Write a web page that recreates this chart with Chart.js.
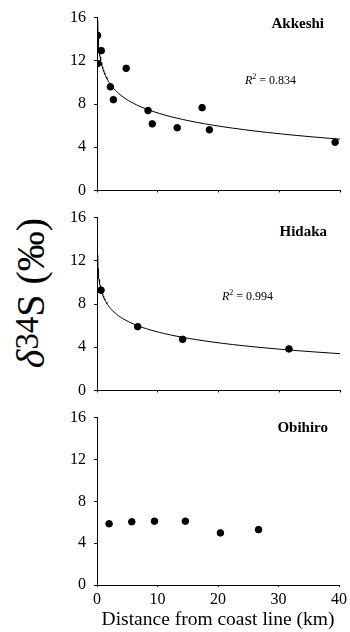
<!DOCTYPE html>
<html lang="en">
<head>
<meta charset="UTF-8">
<title>δ34S vs distance from coast line</title>
<script src="https://cdn.jsdelivr.net/npm/chart.js"></script>
<style>
    body {
        margin: 0;
        padding: 0;
        background: #fff;
        width: 350px;
        height: 632px;
        position: relative;
        overflow: hidden;
        font-family: "Liberation Serif", "Times New Roman", serif;
    }
    canvas { position: absolute; left: 0; }
    #c1 { top: 0; }
    #c2 { top: 200px; }
    #c3 { top: 400px; }
    #ylabel {
        position: absolute;
        left: 31px;
        top: 293px;
        transform: translate(-50%, -50%) rotate(-90deg);
        font-size: 40px;
        line-height: 1;
        white-space: nowrap;
        color: #000;
    }
    #ylabel sup { font-size: 0.82em; vertical-align: 0.18em; line-height: 0; }
</style>
</head>
<body>
<div id="ylabel"><i>δ</i><sup>34</sup>S (‰)</div>
<canvas id="c1" width="350" height="208"></canvas>
<canvas id="c2" width="350" height="208"></canvas>
<canvas id="c3" width="350" height="234"></canvas>

<script>
// distance from coast line (km) and δ34S (‰) for each site
var akkeshiDist = [0.1, 0.1, 0.7, 2.2, 2.7, 4.8, 8.4, 9.1, 13.2, 17.3, 18.5, 39.2];
var akkeshiS34  = [14.35, 11.75, 12.94, 9.59, 8.4, 11.3, 7.39, 6.16, 5.8, 7.66, 5.61, 4.46];

var hidakaDist = [0.66, 6.7, 14.1, 31.6];
var hidakaS34  = [9.28, 5.9, 4.73, 3.84];

var obihiroDist = [2.0, 5.75, 9.5, 14.6, 20.4, 26.7];
var obihiroS34  = [5.85, 6.04, 6.1, 6.1, 4.98, 5.29];

// logarithmic trend lines y = a - b ln(x), as shown on the figure
var akkeshiTrend = { a: 11.2, b: 1.75, r2: '0.834' };
var hidakaTrend  = { a: 8.75, b: 1.45, r2: '0.994' };

var yTicks = [0, 4, 8, 12, 16];
var xTicks = [0, 10, 20, 30, 40];

var FONT = '"Liberation Serif", "Times New Roman", serif';

function toPoints(xs, ys) {
    return xs.map(function (x, i) { return { x: x, y: ys[i] }; });
}

function trendPoints(t) {
    var pts = [];
    var x = 0.075;
    while (x < 40) {
        pts.push({ x: x, y: t.a - t.b * Math.log(x) });
        x *= 1.08;
    }
    pts.push({ x: 40, y: t.a - t.b * Math.log(40) });
    return pts;
}

// site name and R² text
var panelText = {
    id: 'panelText',
    afterDraw: function (chart, args, o) {
        var ctx = chart.ctx;
        ctx.save();
        ctx.fillStyle = '#000';
        ctx.textBaseline = 'middle';
        ctx.textAlign = 'right';
        ctx.font = 'bold 15px ' + FONT;
        ctx.fillText(o.name, o.nameX, o.nameY);
        if (o.r2) {
            ctx.textAlign = 'left';
            var x = o.r2X;
            ctx.font = 'italic 12px ' + FONT;
            ctx.fillText('R', x, o.r2Y);
            x += ctx.measureText('R').width;
            ctx.font = '8px ' + FONT;
            ctx.fillText('2', x, o.r2Y - 4);
            x += ctx.measureText('2').width;
            ctx.font = '12px ' + FONT;
            ctx.fillText(' = ' + o.r2, x, o.r2Y);
        }
        ctx.restore();
    }
};

function makePanel(id, points, trend, text, padTop, xHeight, showX) {
    var datasets = [{
        data: points,
        backgroundColor: '#000',
        borderColor: '#000',
        pointRadius: 3.3,
        pointHoverRadius: 3.3
    }];
    if (trend) {
        datasets.push({
            data: trendPoints(trend),
            showLine: true,
            borderColor: '#000',
            borderWidth: 1,
            pointRadius: 0,
            tension: 0
        });
    }
    return new Chart(document.getElementById(id), {
        type: 'scatter',
        data: { datasets: datasets },
        plugins: [panelText],
        options: {
            responsive: false,
            animation: false,
            layout: { padding: { top: padTop, right: 10, left: 0, bottom: 0 } },
            plugins: {
                legend: { display: false },
                tooltip: { enabled: false },
                panelText: text
            },
            scales: {
                x: {
                    type: 'linear',
                    min: 0,
                    max: 40,
                    afterBuildTicks: function (s) { s.ticks = xTicks.map(function (v) { return { value: v }; }); },
                    grid: { drawOnChartArea: false, color: '#000', tickLength: 2 },
                    border: { color: '#000', width: 1 },
                    ticks: { display: showX, color: '#000', padding: 3, font: { family: FONT, size: 16 } },
                    title: {
                        display: showX,
                        text: 'Distance from coast line (km)',
                        color: '#000',
                        padding: { top: 0, bottom: 2 },
                        font: { family: FONT, size: 19.5 }
                    },
                    afterFit: function (s) { s.height = xHeight; }
                },
                y: {
                    min: 0,
                    max: 16,
                    afterBuildTicks: function (s) { s.ticks = yTicks.map(function (v) { return { value: v }; }); },
                    grid: { drawOnChartArea: false, color: '#000', tickLength: 3 },
                    border: { color: '#000', width: 1 },
                    ticks: { color: '#000', padding: 8, font: { family: FONT, size: 16 } },
                    afterFit: function (s) { s.width = 97; }
                }
            }
        }
    });
}

makePanel('c1', toPoints(akkeshiDist, akkeshiS34), akkeshiTrend,
    { name: 'Akkeshi', nameX: 324, nameY: 24, r2: akkeshiTrend.r2, r2X: 245, r2Y: 81 },
    15, 10, false);

makePanel('c2', toPoints(hidakaDist, hidakaS34), hidakaTrend,
    { name: 'Hidaka', nameX: 327, nameY: 32, r2: hidakaTrend.r2, r2X: 222, r2Y: 97 },
    15, 11, false);

makePanel('c3', toPoints(obihiroDist, obihiroS34), null,
    { name: 'Obihiro', nameX: 328, nameY: 28 },
    13, 49, true);
</script>
</body>
</html>
